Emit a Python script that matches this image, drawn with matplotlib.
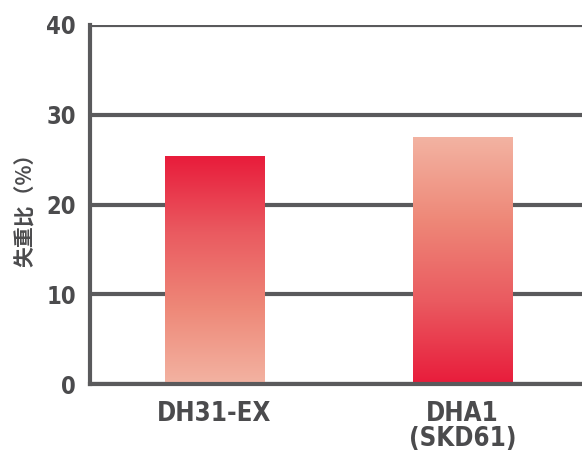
import matplotlib
matplotlib.use('Agg')
import matplotlib.pyplot as plt
import numpy as np
from matplotlib.colors import LinearSegmentedColormap
from matplotlib import font_manager

# Datos
materiales = ['DH31-EX', 'DHA1\n(SKD61)']
perdida = [25.4, 27.5]
yticks = [0, 10, 20, 30, 40]

gris = '#5a5a5c'
texto = '#4b4b4d'

# Fuente estrecha y negrita (DejaVu Sans Condensed)
fp_num = font_manager.FontProperties(family='DejaVu Sans', stretch='condensed',
                                     weight='bold', size=17)
fp_cat = font_manager.FontProperties(family='DejaVu Sans', stretch='condensed',
                                     weight='bold', size=18.5)

# Degradado: rojo intenso -> salmón claro
rojo_claro = LinearSegmentedColormap.from_list(
    'rojo_claro', ['#e81c3b', '#ea5a60', '#ee8878', '#f3b3a2'])

fig = plt.figure(figsize=(5.82, 4.54), dpi=100)
ax = fig.add_axes([90 / 582, 70 / 454, 1 - 90 / 582, (384 - 25) / 454])

x = np.arange(len(materiales))
barras = ax.bar(x, perdida, width=0.4, color='none', zorder=3)

# Rellenar cada barra con un degradado (la primera roja arriba, la segunda abajo)
grad = np.linspace(0, 1, 256).reshape(-1, 1)
for i, b in enumerate(barras):
    x0, y0 = b.get_x(), b.get_y()
    w, h = b.get_width(), b.get_height()
    img = grad[::-1] if i == 0 else grad
    im = ax.imshow(img, cmap=rojo_claro, aspect='auto', origin='lower',
                   extent=[x0, x0 + w, y0, y0 + h], zorder=3)
    im.set_clip_path(b)

ax.set_xlim(-0.502, 1.482)
ax.set_ylim(0, 40)
ax.set_yticks(yticks)
ax.set_xticks(x)
ax.set_xticklabels(materiales, fontproperties=fp_cat, color=texto,
                   linespacing=0.95)
ax.set_yticklabels([str(v) for v in yticks], fontproperties=fp_num, color=texto)
ax.tick_params(axis='both', length=0)
ax.tick_params(axis='y', pad=10)
ax.tick_params(axis='x', pad=12)

ax.yaxis.grid(True, color=gris, linewidth=3, zorder=1)
ax.set_axisbelow(True)
for lado in ['top', 'right']:
    ax.spines[lado].set_visible(False)
for lado in ['left', 'bottom']:
    ax.spines[lado].set_color(gris)
    ax.spines[lado].set_linewidth(3)
    ax.spines[lado].set_zorder(4)

ax.set_ylabel('失重比（%）', fontsize=15, fontweight='bold', color=texto,
              family=['Noto Sans CJK SC', 'DejaVu Sans'])
ax.yaxis.set_label_coords(-0.11, 0.5)

fig.savefig('out.png', dpi=100)
